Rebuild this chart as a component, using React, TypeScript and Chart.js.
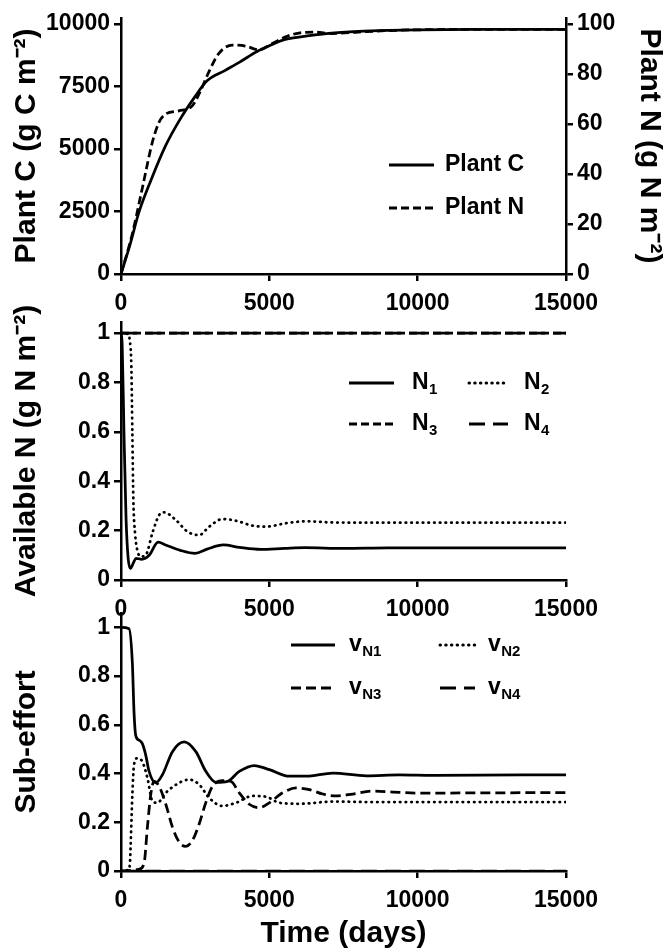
import React, { useEffect, useRef } from "react";
import { Chart, registerables } from "chart.js";
Chart.register(...registerables);

const FONT = "'Liberation Sans', Arial, Helvetica, sans-serif";

// ---------- Data (days on x) ----------
const xTicks = [0, 5000, 10000, 15000];

const timePlantC = [0, 300, 600, 1000, 1500, 2000, 2500, 2900, 3500, 4000, 4600, 5000, 5500, 6000, 7000, 8000, 9000, 10000, 12000, 15000];
const plantC = [0, 1150, 2450, 3720, 5120, 6200, 7100, 7720, 8130, 8470, 8900, 9120, 9370, 9470, 9620, 9700, 9740, 9760, 9775, 9780];

const timePlantN = [0, 380, 720, 1060, 1280, 1500, 1950, 2400, 2650, 2970, 3300, 3750, 4200, 4650, 5100, 5550, 6000, 6550, 7100, 8000, 9000, 10000, 12000, 15000];
const plantN = [0, 16, 34.4, 52.8, 60.6, 63.9, 65.2, 67.2, 72.4, 81, 88.2, 91.5, 91.1, 89.6, 92.1, 94.8, 96.3, 96.7, 96.1, 96.7, 97.3, 97.6, 97.8, 97.8];

const timeN1 = [0, 40, 100, 170, 240, 320, 420, 500, 700, 950, 1250, 1500, 2000, 2500, 2900, 3450, 4000, 4700, 5500, 6200, 7500, 9000, 15000];
const availN1 = [1, 0.95, 0.6, 0.25, 0.09, 0.047, 0.07, 0.088, 0.084, 0.1, 0.153, 0.142, 0.12, 0.108, 0.125, 0.142, 0.132, 0.124, 0.128, 0.131, 0.128, 0.13, 0.13];

const timeN2 = [0, 250, 293, 349, 383, 417, 473, 552, 665, 834, 1058, 1284, 1453, 1847, 2241, 2635, 2973, 3423, 3874, 4437, 4887, 5563, 6240, 7128, 9000, 15000];
const availN2 = [1, 0.995, 0.973, 0.865, 0.595, 0.324, 0.19, 0.12, 0.095, 0.101, 0.19, 0.263, 0.274, 0.243, 0.196, 0.182, 0.216, 0.247, 0.24, 0.22, 0.216, 0.23, 0.238, 0.233, 0.232, 0.232];

const timeN3 = [0, 15000];
const availN3 = [1, 1];
const timeN4 = [0, 15000];
const availN4 = [1, 1];

const timeV1 = [0, 270, 383, 439, 496, 608, 720, 834, 946, 1172, 1396, 1734, 2128, 2523, 2860, 3198, 3592, 3986, 4493, 5000, 5676, 6240, 7140, 8266, 9392, 10520, 15000];
const effortV1 = [1, 0.995, 0.854, 0.652, 0.557, 0.537, 0.523, 0.476, 0.409, 0.362, 0.395, 0.49, 0.53, 0.49, 0.409, 0.364, 0.368, 0.409, 0.433, 0.416, 0.389, 0.389, 0.402, 0.391, 0.395, 0.393, 0.395];

const timeV2 = [0, 250, 300, 327, 383, 439, 552, 720, 890, 1058, 1227, 1510, 1960, 2297, 2635, 2973, 3423, 3874, 4437, 4887, 5338, 6014, 7128, 8500, 15000];
const effortV2 = [0, 0.005, 0.03, 0.112, 0.314, 0.436, 0.463, 0.449, 0.382, 0.287, 0.28, 0.321, 0.362, 0.375, 0.355, 0.3, 0.267, 0.28, 0.308, 0.305, 0.28, 0.276, 0.285, 0.283, 0.283];

const timeV3 = [0, 600, 777, 890, 1003, 1115, 1284, 1510, 1734, 1960, 2185, 2410, 2635, 2860, 3086, 3423, 3705, 3986, 4324, 4662, 5000, 5450, 5901, 6351, 6801, 7252, 7815, 8490, 9166, 9955, 15000];
const effortV3 = [0, 0.007, 0.031, 0.18, 0.314, 0.368, 0.348, 0.274, 0.18, 0.119, 0.101, 0.126, 0.193, 0.281, 0.348, 0.371, 0.368, 0.321, 0.274, 0.26, 0.28, 0.321, 0.341, 0.334, 0.316, 0.308, 0.316, 0.328, 0.324, 0.32, 0.322];

const timeV4 = [0, 15000];
const effortV4 = [0, 0];

// ---------- helpers ----------
const pts = (xs: number[], ys: number[]) => xs.map((x, i) => ({ x, y: ys[i] }));

const tickFont = { family: FONT, size: 23, weight: "bold" as const };
const titleFont = { family: FONT, size: 30, weight: "bold" as const };

function xAxis(height: number, title?: string) {
  return {
    type: "linear",
    min: 0,
    max: 15000,
    afterBuildTicks: (s: any) => {
      s.ticks = xTicks.map((v) => ({ value: v }));
    },
    ticks: {
      autoSkip: false,
      maxRotation: 0,
      color: "#000",
      font: tickFont,
      padding: 9,
      callback: (v: any) => String(v),
    },
    grid: { drawOnChartArea: false, drawTicks: true, tickLength: 7, color: "#000", lineWidth: 2.5 },
    border: { display: true, color: "#000", width: 2.5 },
    title: title
      ? { display: true, text: title, color: "#000", font: titleFont, padding: { top: 0, bottom: -3 } }
      : { display: false },
    afterFit: (s: any) => {
      s.height = height;
    },
  };
}

function yAxis(o: {
  position: "left" | "right";
  max: number;
  step: number;
  limit: number;
  width: number;
  title: string;
  titlePad: number;
  decimals: number;
}) {
  return {
    type: "linear",
    position: o.position,
    min: 0,
    max: o.max,
    afterBuildTicks: (s: any) => {
      const t: { value: number }[] = [];
      for (let v = 0; v <= o.limit + 1e-9; v += o.step) t.push({ value: Number(v.toFixed(6)) });
      s.ticks = t;
    },
    ticks: {
      color: "#000",
      font: tickFont,
      padding: 4,
      callback: (v: any) => String(Number(Number(v).toFixed(o.decimals))),
    },
    grid: { drawOnChartArea: false, drawTicks: true, tickLength: 7, color: "#000", lineWidth: 2.5 },
    border: { display: true, color: "#000", width: 2.5 },
    title: { display: true, text: o.title, color: "#000", font: titleFont, padding: { top: o.titlePad, bottom: 0 } },
    afterFit: (s: any) => {
      s.width = o.width;
    },
  };
}

type LegendItem = {
  x1: number;
  x2: number;
  y: number;
  dash: number[];
  cap?: CanvasLineCap;
  main: string;
  sub: string;
  tx: number;
};

function legendPlugin(items: LegendItem[]) {
  return {
    id: "customLegend",
    afterDraw(chart: any) {
      const ctx = chart.ctx as CanvasRenderingContext2D;
      ctx.save();
      for (const it of items) {
        ctx.beginPath();
        ctx.setLineDash(it.dash);
        ctx.lineCap = it.cap || "butt";
        ctx.lineWidth = 3;
        ctx.strokeStyle = "#000";
        ctx.moveTo(it.x1, it.y);
        ctx.lineTo(it.x2, it.y);
        ctx.stroke();
        ctx.setLineDash([]);
        ctx.fillStyle = "#000";
        ctx.textBaseline = "middle";
        ctx.textAlign = "left";
        ctx.font = `bold 23px ${FONT}`;
        ctx.fillText(it.main, it.tx, it.y);
        if (it.sub) {
          const w = ctx.measureText(it.main).width;
          ctx.font = `bold 15px ${FONT}`;
          ctx.fillText(it.sub, it.tx + w + 0.5, it.y + 7);
        }
      }
      ctx.restore();
    },
  };
}

function line(xs: number[], ys: number[], dash: number[], extra: any = {}) {
  return {
    data: pts(xs, ys),
    borderColor: "#000",
    borderWidth: 2.75,
    borderDash: dash,
    pointRadius: 0,
    fill: false,
    cubicInterpolationMode: "monotone",
    ...extra,
  };
}

const DOT = [0.5, 5.2];
const SHORT = [8, 4];
const MED = [10, 5];
const LONG = [16, 8];

function baseOptions(padTop: number, padRight: number, scales: any) {
  return {
    responsive: false,
    animation: false,
    events: [],
    layout: { padding: { top: padTop, right: padRight, bottom: 0, left: 0 } },
    plugins: { legend: { display: false }, tooltip: { enabled: false } },
    scales,
  };
}

function config1() {
  return {
    type: "line",
    data: {
      datasets: [
        line(timePlantC, plantC, [], { yAxisID: "y", label: "Plant C" }),
        line(timePlantN, plantN, SHORT, { yAxisID: "y2", label: "Plant N" }),
      ],
    },
    options: baseOptions(15, 0, {
      x: xAxis(46),
      y: yAxis({ position: "left", max: 10240, step: 2500, limit: 10000, width: 121, title: "Plant C (g C m⁻²)", titlePad: 9, decimals: 0 }),
      y2: yAxis({ position: "right", max: 102.4, step: 20, limit: 100, width: 101, title: "Plant N (g N m⁻²)", titlePad: 0, decimals: 0 }),
    }),
    plugins: [
      legendPlugin([
        { x1: 389, x2: 434, y: 165, dash: [], main: "Plant C", sub: "", tx: 445 },
        { x1: 389, x2: 434, y: 208, dash: SHORT, main: "Plant N", sub: "", tx: 445 },
      ]),
    ],
  };
}

function config2() {
  return {
    type: "line",
    data: {
      datasets: [
        line(timeN1, availN1, [], { label: "N1" }),
        line(timeN2, availN2, DOT, { label: "N2", borderCapStyle: "round" }),
        line(timeN3, availN3, SHORT, { label: "N3" }),
        line(timeN4, availN4, LONG, { label: "N4" }),
      ],
    },
    options: baseOptions(22, 101, {
      x: xAxis(40),
      y: yAxis({ position: "left", max: 1.045, step: 0.2, limit: 1, width: 121, title: "Available N (g N m⁻²)", titlePad: 9, decimals: 1 }),
    }),
    plugins: [
      legendPlugin([
        { x1: 349, x2: 394, y: 83, dash: [], main: "N", sub: "1", tx: 412 },
        { x1: 469, x2: 508, y: 83, dash: DOT, cap: "round", main: "N", sub: "2", tx: 524 },
        { x1: 349, x2: 394, y: 124, dash: SHORT, main: "N", sub: "3", tx: 412 },
        { x1: 469, x2: 508, y: 124, dash: LONG, main: "N", sub: "4", tx: 524 },
      ]),
    ],
  };
}

function config3() {
  return {
    type: "line",
    data: {
      datasets: [
        line(timeV1, effortV1, [], { label: "vN1" }),
        line(timeV2, effortV2, DOT, { label: "vN2", borderCapStyle: "round" }),
        line(timeV3, effortV3, MED, { label: "vN3" }),
        line(timeV4, effortV4, LONG, { label: "vN4" }),
      ],
    },
    options: baseOptions(14, 101, {
      x: xAxis(78, "Time (days)"),
      y: yAxis({ position: "left", max: 1.06, step: 0.2, limit: 1, width: 121, title: "Sub-effort", titlePad: 9, decimals: 1 }),
    }),
    plugins: [
      legendPlugin([
        { x1: 291, x2: 335, y: 50, dash: [], main: "v", sub: "N1", tx: 349 },
        { x1: 440, x2: 475, y: 50, dash: DOT, cap: "round", main: "v", sub: "N2", tx: 488 },
        { x1: 291, x2: 335, y: 93, dash: MED, main: "v", sub: "N3", tx: 349 },
        { x1: 440, x2: 475, y: 93, dash: LONG, main: "v", sub: "N4", tx: 488 },
      ]),
    ],
  };
}

function Panel({ top, height, make }: { top: number; height: number; make: () => any }) {
  const ref = useRef<HTMLCanvasElement>(null);
  useEffect(() => {
    const chart = new Chart(ref.current as HTMLCanvasElement, make());
    return () => chart.destroy();
  }, []);
  return (
    <canvas
      ref={ref}
      width={667}
      height={height}
      style={{ position: "absolute", left: 0, top, width: 667, height }}
    />
  );
}

export default function App() {
  return (
    <div style={{ position: "absolute", left: 0, top: 0, width: 667, height: 949, background: "#fff", overflow: "hidden" }}>
      <Panel top={0} height={320} make={config1} />
      <Panel top={300} height={320} make={config2} />
      <Panel top={595} height={354} make={config3} />
    </div>
  );
}
